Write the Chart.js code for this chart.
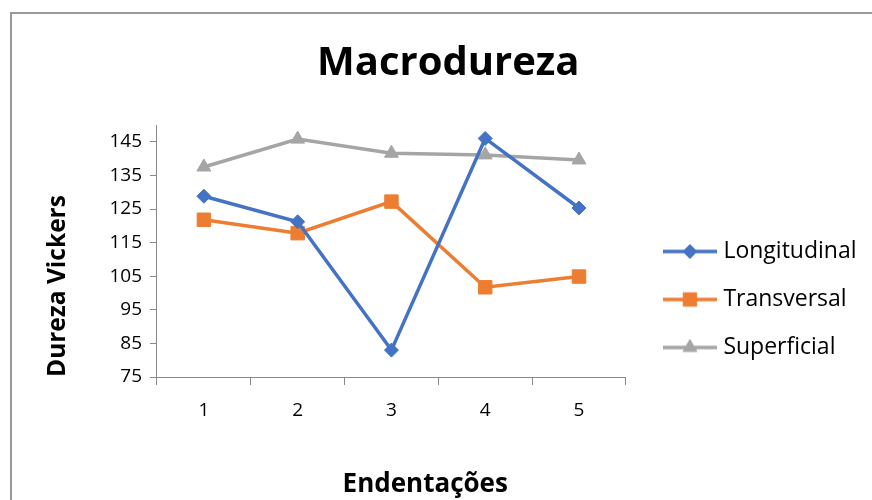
<!DOCTYPE html>
<html><head><meta charset="utf-8">
<script src="https://cdn.jsdelivr.net/npm/chart.js@4.4.1/dist/chart.umd.min.js"></script>
<style>
html,body{margin:0;padding:0;background:#fff;}
#wrap{position:relative;width:872px;height:500px;overflow:hidden;background:#fff;}
#frame{position:absolute;left:10px;top:12px;width:1000px;height:1000px;border:2px solid #999;box-sizing:border-box;pointer-events:none;}
canvas{position:absolute;left:0;top:0;}
</style></head><body>
<div id="wrap"><canvas id="c" width="872" height="500"></canvas><div id="frame"></div></div>
<script>
const categories = ['1', '2', '3', '4', '5'];
const longitudinal = [128.8, 121.2, 83.0, 146.0, 125.3];
const transversal = [121.8, 117.8, 127.2, 101.7, 104.9];
const superficial = [137.5, 145.8, 141.6, 141.1, 139.6];
const yTicks = [75, 85, 95, 105, 115, 125, 135, 145];
const seriesNames = ['Longitudinal', 'Transversal', 'Superficial'];
const chartTitle = 'Macrodureza';
const xTitle = 'Endentações';
const yTitle = 'Dureza Vickers';

const FONT = "'Open Sans', sans-serif";
const colors = ['#4472C4', '#ED7D31', '#A5A5A5'];
const styles = ['rectRot', 'rect', 'triangle'];
const radii = [7, 9.5, 8];

function legendIcon(i) {
  const cv = document.createElement('canvas');
  cv.width = 54; cv.height = 22;
  const ctx = cv.getContext('2d');
  ctx.strokeStyle = colors[i];
  ctx.lineWidth = 3.5;
  ctx.beginPath(); ctx.moveTo(0, 11); ctx.lineTo(54, 11); ctx.stroke();
  ctx.fillStyle = colors[i];
  ctx.lineWidth = 1;
  Chart.helpers.drawPoint(ctx, {pointStyle: styles[i], radius: radii[i], borderWidth: 1}, 27, 11);
  return cv;
}

const seriesData = [longitudinal, transversal, superficial];
const datasets = seriesNames.map((name, i) => ({
  label: name,
  data: seriesData[i],
  borderColor: colors[i],
  backgroundColor: colors[i],
  borderWidth: 3.5,
  pointStyle: styles[i],
  pointRadius: radii[i],
  pointHoverRadius: radii[i],
  pointBorderWidth: 1,
  tension: 0,
  clip: false
}));

const placeBlocks = {
  id: 'placeBlocks',
  afterLayout(chart) {
    const lg = chart.legend, ca = chart.chartArea;
    const w = lg.width, h = lg.height;
    lg.left = ca.right + 17; lg.right = lg.left + w + 10;
    lg.top = ca.top + 90; lg.bottom = lg.top + h;
    const t = chart.titleBlock;
    if (t) { t.left += 2; t.right += 2; }
    const st = chart.boxes.find(b => b !== t && b.options && b.options.text === xTitle);
    if (st) { st.left -= 21; st.right -= 21; }
  }
};

function draw() {
  new Chart(document.getElementById('c'), {
    type: 'line',
    data: { labels: categories, datasets },
    plugins: [placeBlocks],
    options: {
      responsive: false,
      devicePixelRatio: 1,
      animation: false,
      layout: { padding: { left: 43, right: 22.5, top: 0, bottom: 0 } },
      font: { family: FONT },
      plugins: {
        title: {
          display: true, text: chartTitle, color: '#000',
          font: { family: FONT, size: 40, weight: 'bold' },
          padding: { top: 40, bottom: 37 }
        },
        subtitle: {
          display: true, text: xTitle, position: 'bottom', color: '#000',
          font: { family: FONT, size: 26, weight: 'bold' },
          padding: { top: 31.8, bottom: 0 }
        },
        legend: {
          position: 'right', align: 'start', maxWidth: 240,
          labels: {
            color: '#000', font: { family: FONT, size: 23 },
            usePointStyle: true, pointStyleWidth: 44, padding: 25,
            generateLabels(chart) {
              return chart.data.datasets.map((ds, i) => ({
                text: ds.label, pointStyle: legendIcon(i), fillStyle: ds.backgroundColor,
                strokeStyle: ds.borderColor, lineWidth: 0, hidden: false, datasetIndex: i, fontColor: '#000'
              }));
            }
          }
        },
        tooltip: { enabled: false }
      },
      scales: {
        x: {
          offset: true,
          grid: { display: true, offset: true, drawOnChartArea: false, drawTicks: true, tickLength: 8, color: '#898989' },
          border: { display: true, color: '#898989', width: 1 },
          ticks: { color: '#000', font: { family: FONT, size: 19 }, padding: 14.6, maxRotation: 0 }
        },
        y: {
          min: 75, max: 150,
          afterBuildTicks(scale) { scale.ticks = yTicks.map(v => ({ value: v })); },
          grid: { display: true, drawOnChartArea: false, drawTicks: true, tickLength: 7, color: '#898989' },
          border: { display: true, color: '#898989', width: 1 },
          ticks: { color: '#000', font: { family: FONT, size: 19 }, padding: 8 },
          title: {
            display: true, text: yTitle, color: '#000', align: 'start',
            font: { family: FONT, size: 24.5, weight: 'bold' },
            padding: { top: 0, bottom: 29 }
          }
        }
      }
    }
  });
}

let done = false;
function go() { if (!done) { done = true; draw(); } }
if (document.fonts && document.fonts.load) {
  Promise.all([
    document.fonts.load("18px 'Open Sans'"),
    document.fonts.load("bold 18px 'Open Sans'")
  ]).then(go, go);
  setTimeout(go, 1500);
} else { go(); }
</script>
</body></html>
